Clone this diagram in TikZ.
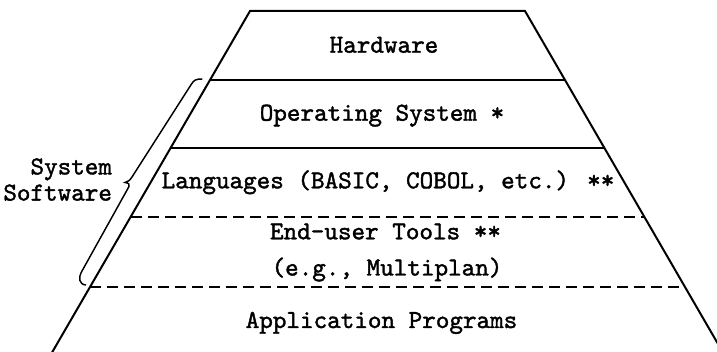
\documentclass[tikz,border=0pt]{standalone}
\usepackage{fontspec}
\newfontfamily\typewriter{lmmono10-regular.otf}[FakeBold=1.5]
\tikzset{every picture/.style={line width=1.5pt}}
\tikzset{layertext/.style={anchor=base, inner sep=0.75pt, font=\typewriter\fontsize{19.4}{19.6}\selectfont},
  dashedlayer/.style={dash pattern=on 8.25pt off 4.5pt}}

\begin{document}
\begin{tikzpicture}[x=0.75pt,y=0.75pt,yscale=-1,xscale=1]
\useasboundingbox (0,0) rectangle (717,352);
\clip (0,0) rectangle (717,352);

%Shape: Trapezoid [id:pyramid]
\draw   (50,356) -- (250,11) -- (525,11) -- (725,356) ;
%Straight Lines [id:hw-os]
\draw    (210,80) -- (565,80) ;
%Straight Lines [id:os-lang]
\draw    (171,147.7) -- (604,147.7) ;
%Straight Lines [id:lang-tools]
\draw [dashedlayer]   (131,216.7) -- (643.5,216.7) ;
%Straight Lines [id:tools-app]
\draw [dashedlayer]   (90,286.7) -- (684.5,286.7) ;
%Curve Lines [id:brace]
\draw [line width=1.1pt]   (202.3,79) .. controls (196,79) and (194,80) .. (191.5,84) -- (132,177) .. controls (130,180) and (128,182) .. (125,182.5) .. controls (128,183) and (130.5,184) .. (129,186.5) -- (82,271) .. controls (78,278) and (79,284.5) .. (86,285) ;

% Text Node
\draw (384,52.7) node [layertext] (hardware) {Hardware};
% Text Node
\draw (382,120.7) node [layertext] (opsys) {Operating System *};
% Text Node
\draw (388,188.3) node [layertext] (languages) {Languages (BASIC, COBOL, etc.) **};
% Text Node
\draw (385.5,239.3) node [layertext] (tools) {End-user Tools **};
% Text Node
\draw (387,275.5) node [layertext] (multiplan) {(e.g., Multiplan)};
% Text Node
\draw (381.5,328) node [layertext] (apps) {Application Programs};
% Text Node
\draw (114,179.6) node [layertext, anchor=east, align=right] (syssoft) {System\\Software};
\end{tikzpicture}
\end{document}
